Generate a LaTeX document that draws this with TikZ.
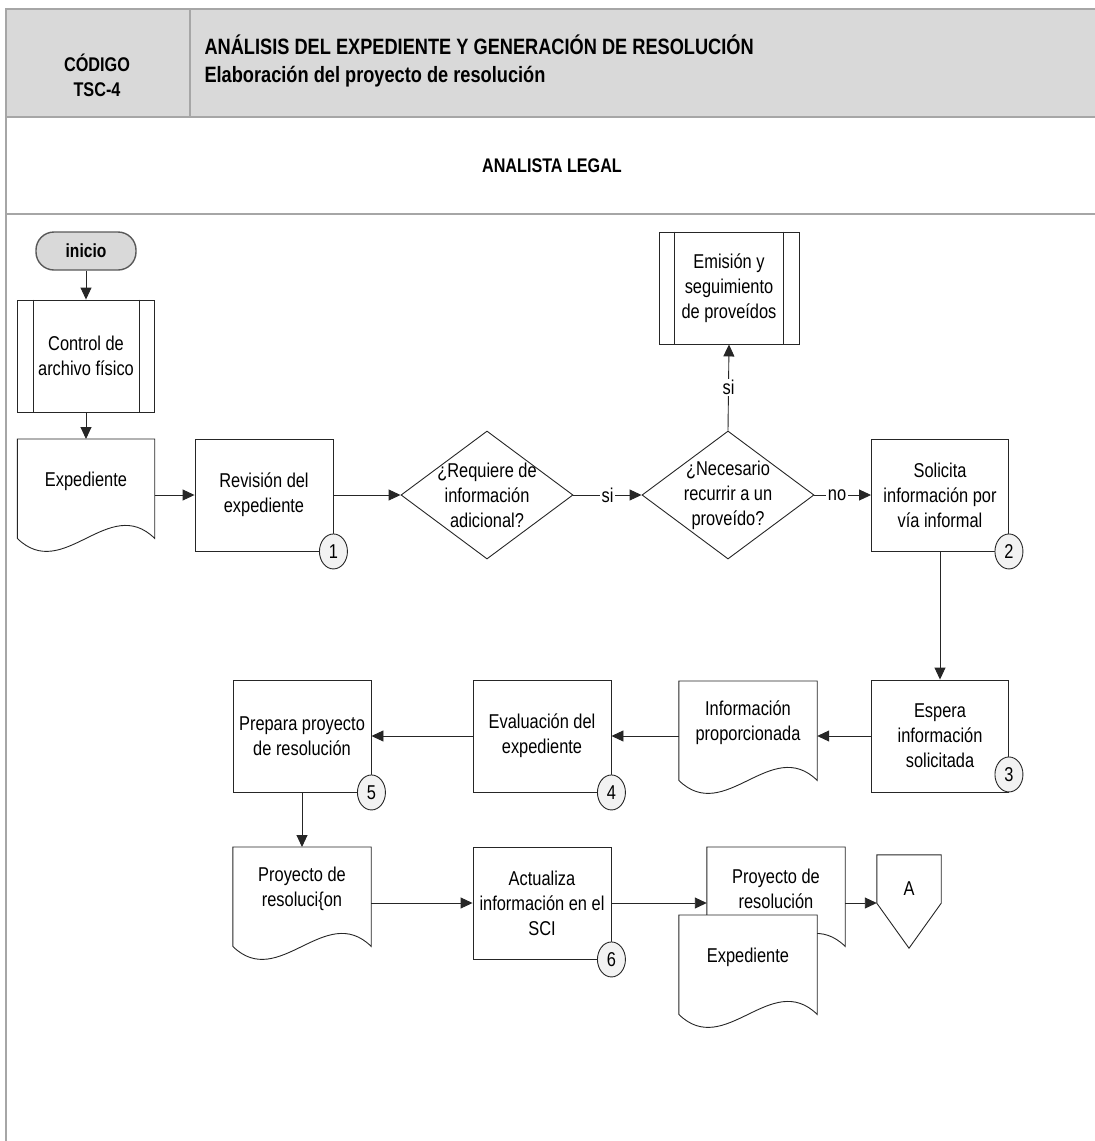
\documentclass[tikz,border=0pt]{standalone}
\usepackage{fontspec}
\setmainfont{Liberation Sans}[FakeStretch=0.82]
\usetikzlibrary{shapes.geometric,arrows.meta,backgrounds}
\definecolor{framegray}{HTML}{A6A6A6}
\definecolor{headfill}{HTML}{D9D9D9}
\definecolor{badgefill}{HTML}{F2F2F2}
\definecolor{inkline}{HTML}{262626}
\newcommand\boxfont{\fontsize{20}{25}\selectfont}
% outline of a document symbol around a text node (wavy lower edge)
\newcommand\docoutline[1]{%
  \draw[shapeline, fill=white] (#1.north west) -- ([yshift=-15pt]#1.south west)
    .. controls +(46,45) and +(-46,-45) .. ([yshift=-15pt]#1.south east)
    -- (#1.north east) -- cycle;}
% the two inner bars of a predefined-process box
\newcommand\predefbars[1]{%
  \draw[shapeline] ([xshift=16pt]#1.north west) -- ([xshift=16pt]#1.south west);
  \draw[shapeline] ([xshift=-16pt]#1.north east) -- ([xshift=-16pt]#1.south east);}

\begin{document}
\begin{tikzpicture}[x=1pt,y=-1pt,
  shapeline/.style={draw=inkline, line width=0.9pt},
  procbox/.style={shapeline, rectangle, minimum width=138pt, minimum height=112pt,
    inner sep=0pt, align=center, font=\boxfont, fill=white},
  docbox/.style={rectangle, minimum width=138pt, minimum height=84pt, inner sep=0pt,
    align=center, font=\boxfont, anchor=north},
  decision/.style={shapeline, diamond, minimum width=172pt, minimum height=128pt,
    inner sep=-30pt, align=center, font=\boxfont},
  badge/.style={draw=inkline, line width=0.9pt, fill=badgefill, ellipse,
    minimum width=28pt, minimum height=35pt, inner sep=0pt, font=\boxfont},
  flow/.style={draw=inkline, line width=0.9pt, -{Triangle[length=12pt,width=11pt]}},
  flowlabel/.style={fill=white, inner sep=1.5pt, font=\boxfont},
  frameline/.style={draw=framegray, line width=2.5pt},
]
\useasboundingbox (0,0) rectangle (1095,1141);

% header and lane frame
\fill[headfill] (6,9) rectangle (1095,117);
\draw[frameline] (6,9) -- (1095,9);
\draw[frameline] (6,117) -- (1095,117);
\draw[frameline] (6,214) -- (1095,214);
\draw[frameline] (190,9) -- (190,117);
\draw[frameline] (6,8) -- (6,1141);

\node[font=\bfseries\fontsize{19.8}{25}\selectfont, align=center] (code) at (97,75.5) {CÓDIGO\\TSC-4};
\node[font=\bfseries\fontsize{22.2}{28}\selectfont, align=left, anchor=west] (title) at (201,61)
  {ANÁLISIS DEL EXPEDIENTE Y GENERACIÓN DE RESOLUCIÓN\\Elaboración del proyecto de resolución};
\node[font=\bfseries\fontsize{19.7}{25}\selectfont] (lane) at (552,166) {ANALISTA LEGAL};

% first row
\node[draw=gray!70!black, line width=1.4pt, fill=headfill, rounded corners=18pt,
  minimum width=100pt, minimum height=38pt, inner sep=0pt,
  font=\bfseries\fontsize{19}{22}\selectfont] (start) at (86,251) {inicio};
\node[procbox, minimum width=137pt] (ctl) at (86,356) {Control de\\archivo físico};
\predefbars{ctl}
\node[docbox, minimum width=137pt] (exp) at (86,439) {Expediente};
\node[procbox] (rev) at (264,495) {Revisión del\\expediente};
\node[decision] (d1) at (487,495) {¿Requiere de\\información\\adicional?};
\node[decision] (d2) at (728,495) {¿Necesario\\recurrir a un\\proveído?};
\node[procbox, minimum width=140pt] (emi) at (729,288) {Emisión y\\seguimiento\\de proveídos};
\predefbars{emi}
\node[procbox, minimum width=137pt] (sol) at (940,495) {Solicita\\información por\\vía informal};

% second row
\node[procbox, minimum width=137pt] (esp) at (940,736) {Espera\\información\\solicitada};
\node[docbox] (info) at (748,681) {Información\\proporcionada};
\node[procbox] (eva) at (542,736) {Evaluación del\\expediente};
\node[procbox] (prep) at (302,736) {Prepara proyecto\\de resolución};

% third row
\node[docbox] (proy) at (302,847) {Proyecto de\\resoluci\{on};
\node[procbox] (act) at (542,903) {Actualiza\\información en el\\SCI};
\node[docbox] (proy2) at (776,847) {Proyecto de\\resolución};
\node[docbox] (exp2) at (748,915) {Expediente};
\node[rectangle, minimum width=64pt, minimum height=68pt, inner sep=0pt,
  font=\boxfont] (offp) at (909,889) {A};
\draw[shapeline] (offp.north west) -- (offp.north east) -- ([yshift=20pt]offp.south east)
  -- ([yshift=-25pt]offp.south) -- ([yshift=20pt]offp.south west) -- cycle;

% document symbols sit below the texts; later ones cover earlier ones
\begin{pgfonlayer}{background}
  \docoutline{exp}
  \docoutline{info}
  \docoutline{proy}
  \docoutline{proy2}
  \docoutline{exp2}
\end{pgfonlayer}

% step numbers
\node[badge] (n1) at (rev.south east) {1};
\node[badge] (n2) at (sol.south east) {2};
\node[badge] (n3) at ([yshift=18pt]esp.south east) {3};
\node[badge] (n4) at (eva.south east) {4};
\node[badge] (n5) at (prep.south east) {5};
\node[badge] (n6) at (act.south east) {6};

% connectors
\draw[flow] (start.south) -- (ctl.north);
\draw[flow] (ctl.south) -- (exp.north);
\draw[flow] (exp.east |- rev.west) -- (rev.west);
\draw[flow] (rev.east) -- (d1.west);
\draw[flow] (d1.east) -- node[flowlabel] {si} (d2.west);
\draw[flow] (d2.north) -- node[flowlabel] {si} (emi.south);
\draw[flow] (d2.east) -- node[flowlabel, pos=0.4] {no} (sol.west);
\draw[flow] (sol.south) -- (esp.north);
\draw[flow] (esp.west) -- (esp.west -| info.east);
\draw[flow] (eva.east -| info.west) -- (eva.east);
\draw[flow] (eva.west) -- (prep.east);
\draw[flow] (prep.south) -- (proy.north);
\draw[flow] (proy.east |- act.west) -- (act.west);
\draw[flow] (act.east) -- (act.east -| proy2.west);
\coordinate (aIn) at (offp.west |- act.east);
\draw[flow] (proy2.east |- aIn) -- (aIn);
\end{tikzpicture}
\end{document}
